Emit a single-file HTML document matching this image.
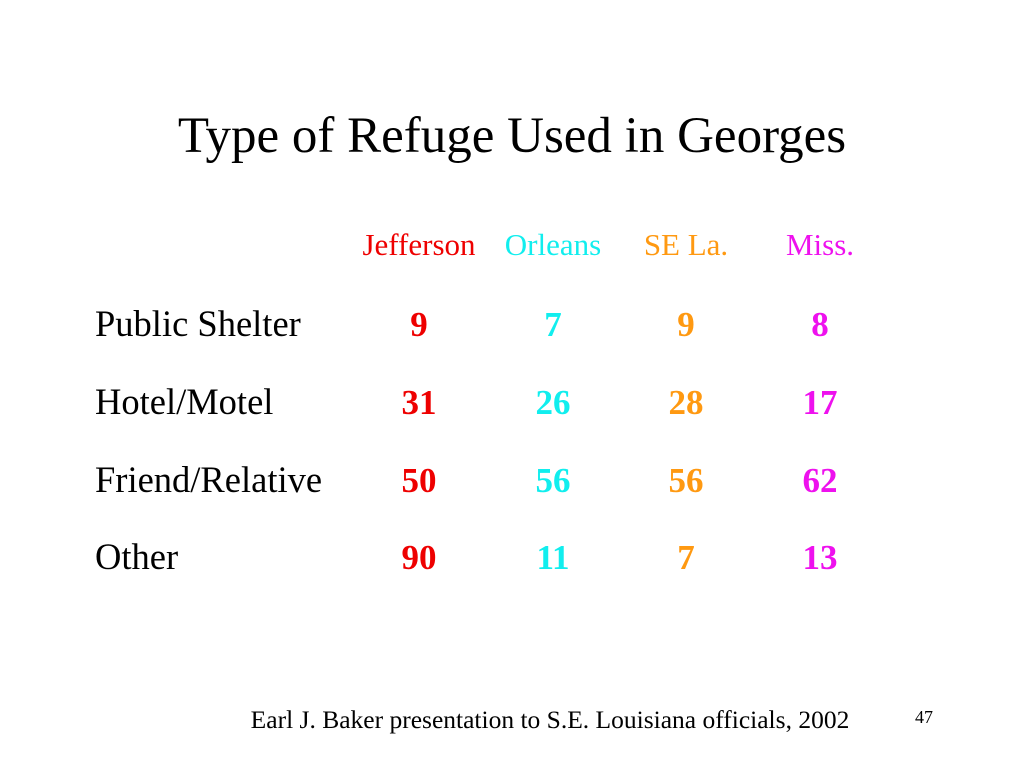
<!DOCTYPE html>
<html><head><meta charset="utf-8"><style>
body{margin:0;width:1024px;height:768px;background:#fff;position:relative;overflow:hidden;font-family:"Liberation Serif",serif;}
.t{position:absolute;white-space:nowrap;line-height:1;}
.c{transform:translateX(-50%);}
</style></head><body>
<div class="t c" style="left:512px;top:111px;font-size:51px;color:#000;">Type of Refuge Used in Georges</div>
<div id="tbl"></div>
<div class="t c" style="left:550px;top:707px;font-size:25.5px;">Earl J. Baker presentation to S.E. Louisiana officials, 2002</div>
<div class="t" style="left:915px;top:708px;font-size:18px;">47</div>
<script>
const regions = ["Jefferson","Orleans","SE La.","Miss."];
const categories = ["Public Shelter","Hotel/Motel","Friend/Relative","Other"];
const jefferson = [9,31,50,90];
const orleans = [7,26,56,11];
const seLa = [9,28,56,7];
const miss = [8,17,62,13];
const series=[jefferson,orleans,seLa,miss];
const colors=["#ee0000","#11eeee","#ff9911","#ee11ee"];
const colX=[419,553,686,820];
const rowTop=[307,385,463,540];
const tbl=document.getElementById('tbl');
function mk(txt,cls,style){const d=document.createElement('div');d.className=cls;d.textContent=txt;d.setAttribute('style',style);tbl.appendChild(d);return d;}
regions.forEach((r,i)=>{
  const d=mk(r,'t c',`left:${colX[i]}px;top:229px;font-size:31px;color:${colors[i]};`);
  
  
});
categories.forEach((c,j)=>{
  const d=mk(c,'t',`left:95px;top:${rowTop[j]-1}px;font-size:36.5px;color:#000;`);
  
  
  series.forEach((s,i)=>{
    const v=mk(String(s[j]),'t c',`left:${colX[i]}px;top:${rowTop[j]}px;font-size:35px;font-weight:bold;color:${colors[i]};`);
    
    
  });
});
</script>
</body></html>
